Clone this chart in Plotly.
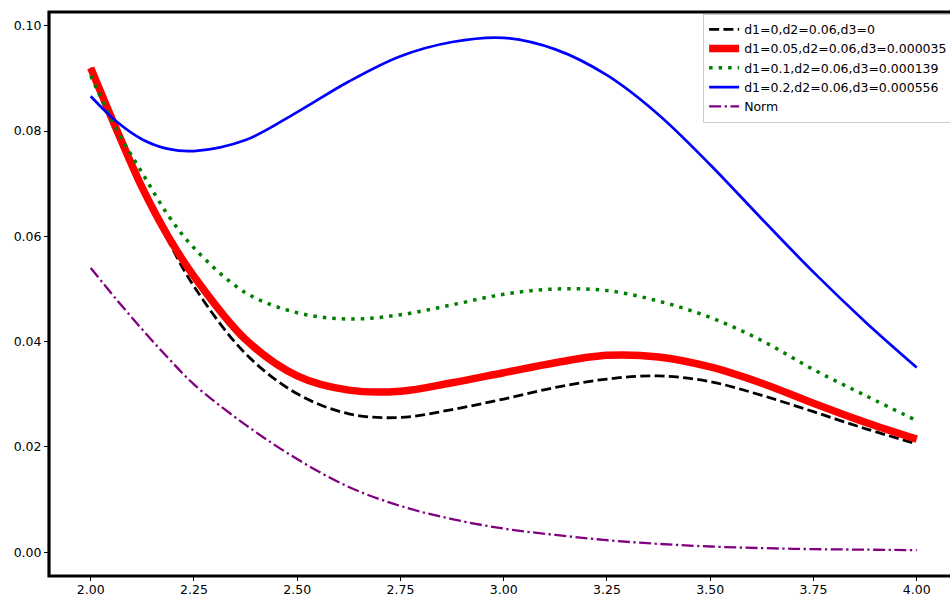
import plotly.graph_objects as go

x_vals = [2.0, 2.0625, 2.125, 2.1875, 2.25, 2.375, 2.5, 2.625, 2.75, 2.875,
          3.0, 3.125, 3.25, 3.375, 3.5, 3.625, 3.75, 3.875, 4.0]

y_d1_0 = [0.0920, 0.0800, 0.0688, 0.0592, 0.0505, 0.0377, 0.0301, 0.0263, 0.0256, 0.0271,
          0.0291, 0.0313, 0.0329, 0.0335, 0.0324, 0.0298, 0.0267, 0.0235, 0.0206]
y_d1_005 = [0.0920, 0.0803, 0.0692, 0.0600, 0.0524, 0.0404, 0.0335, 0.0308, 0.0306, 0.0322,
            0.0341, 0.0360, 0.0374, 0.0371, 0.0352, 0.0321, 0.0283, 0.0247, 0.0215]
y_d1_01 = [0.0905, 0.0803, 0.0720, 0.0640, 0.0578, 0.0493, 0.0455, 0.0443, 0.0451, 0.0470,
           0.0490, 0.0500, 0.0497, 0.0477, 0.0446, 0.0402, 0.0347, 0.0298, 0.0250]
y_d1_02 = [0.0866, 0.0818, 0.0784, 0.0766, 0.0762, 0.0783, 0.0836, 0.0894, 0.0942, 0.0969,
           0.0977, 0.0955, 0.0906, 0.0831, 0.0736, 0.0633, 0.0532, 0.0438, 0.0351]
y_norm = [0.0540, 0.0480, 0.0423, 0.0369, 0.0319, 0.0242, 0.0177, 0.0124, 0.0088, 0.0063,
          0.0045, 0.0033, 0.0023, 0.0016, 0.0011, 0.0008, 0.0006, 0.0005, 0.0004]

names = ["d1=0,d2=0.06,d3=0", "d1=0.05,d2=0.06,d3=0.000035",
         "d1=0.1,d2=0.06,d3=0.000139", "d1=0.2,d2=0.06,d3=0.000556", "Norm"]

x_ticks = [2.0, 2.25, 2.5, 2.75, 3.0, 3.25, 3.5, 3.75, 4.0]
y_ticks = [0.0, 0.02, 0.04, 0.06, 0.08, 0.10]

FONT = "DejaVu Sans"

fig = go.Figure()
styles = [
    (y_d1_0, "#000000", 2.8, "10px,4.3px"),
    (y_d1_005, "#ff0000", 7.5, "solid"),
    (y_d1_01, "#008000", 3.5, "3.5px,6px"),
    (y_d1_02, "#0000ff", 2.7, "solid"),
    (y_norm, "#800080", 2.3, "12px,3.5px,2.3px,3.5px"),
]
for (ys, color, w, dash), name in zip(styles, names):
    fig.add_trace(go.Scatter(
        x=x_vals, y=ys, mode="lines", name=name,
        line=dict(color=color, width=w, dash=dash, shape="spline", smoothing=1.0),
    ))

fig.update_layout(
    width=950, height=598,
    margin=dict(l=49, r=0, t=12, b=22, autoexpand=False),
    paper_bgcolor="white", plot_bgcolor="white",
    font=dict(family=FONT, size=12.5, color="black"),
    showlegend=True,
    legend=dict(
        x=0.726, y=0.997, xanchor="left", yanchor="top",
        bgcolor="rgba(255,255,255,0.85)", bordercolor="#cccccc", borderwidth=1,
        font=dict(family=FONT, size=12.5, color="black"),
        tracegroupgap=0,
    ),
    xaxis=dict(
        range=[1.899, 4.0806], tickvals=x_ticks, tickformat=".2f",
        showgrid=False, zeroline=False, showline=False,
        ticks="outside", ticklen=4, tickwidth=1, tickcolor="black",
        tickfont=dict(family=FONT, size=12.5), ticklabelstandoff=-2,
    ),
    yaxis=dict(
        range=[-0.0045, 0.1026], tickvals=y_ticks, tickformat=".2f",
        showgrid=False, zeroline=False, showline=False,
        ticks="outside", ticklen=4, tickwidth=1, tickcolor="black",
        tickfont=dict(family=FONT, size=12.5),
    ),
    shapes=[dict(type="rect", xref="paper", yref="paper",
                 x0=0, x1=1.0089, y0=0, y1=1,
                 line=dict(color="black", width=3.2), layer="above")],
)

fig.write_html("out.html")
